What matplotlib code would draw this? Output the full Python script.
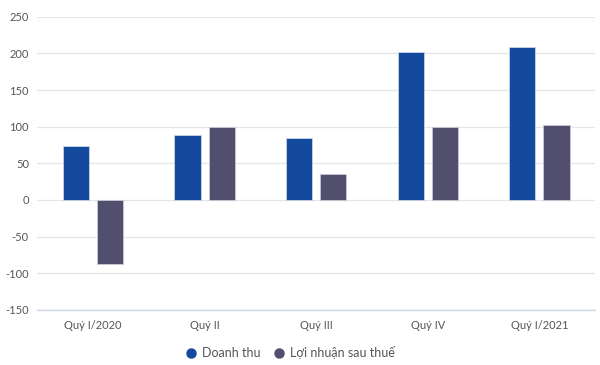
import numpy as np
import matplotlib.pyplot as plt
from matplotlib.lines import Line2D

plt.rcParams['font.family'] = ['Lato', 'DejaVu Sans']
plt.rcParams['axes.unicode_minus'] = False

categories = ['Quý I/2020', 'Quý II', 'Quý III', 'Quý IV', 'Quý I/2021']
doanh_thu = [73, 88, 85, 202, 209]
loi_nhuan = [-88, 100, 36, 99, 103]
series_names = ['Doanh thu', 'Lợi nhuận sau thuế']
colors = ['#134a9e', '#524e6e']

fig = plt.figure(figsize=(6, 3.65), dpi=100)
ax = fig.add_axes([0.062, 0.151, 0.930, 0.803])

x = np.arange(len(categories))
w = 0.235
off = 0.153
ax.bar(x - off, doanh_thu, w, color=colors[0], edgecolor='#c8d2e8', linewidth=0.6, zorder=3)
ax.bar(x + off, loi_nhuan, w, color=colors[1], edgecolor='#c9c8d6', linewidth=0.6, zorder=3)

ax.set_xlim(-0.5, len(categories) - 0.5)
ax.set_ylim(-150, 250)
ax.set_yticks(range(-150, 251, 50))
ax.set_xticks(x)
ax.set_xticklabels(categories)
ax.grid(axis='y', color='#e6e6e6', linewidth=0.9, zorder=0)
for s in ['top', 'right', 'left']:
    ax.spines[s].set_visible(False)
ax.spines['bottom'].set_color('#cfd7e6')
ax.spines['bottom'].set_linewidth(1.0)
ax.tick_params(axis='both', length=0, labelsize=8, colors='#555555')
ax.tick_params(axis='y', pad=6)
ax.tick_params(axis='x', pad=7)

handles = [Line2D([], [], marker='o', linestyle='', markersize=6.5, color=c) for c in colors]
fig.legend(handles, series_names, loc='center', bbox_to_anchor=(0.48, 0.033), ncol=2,
           frameon=False, fontsize=9, labelcolor='#555555', handletextpad=0.1,
           handlelength=1.6, columnspacing=0.7)

fig.savefig('out.png', dpi=100)
